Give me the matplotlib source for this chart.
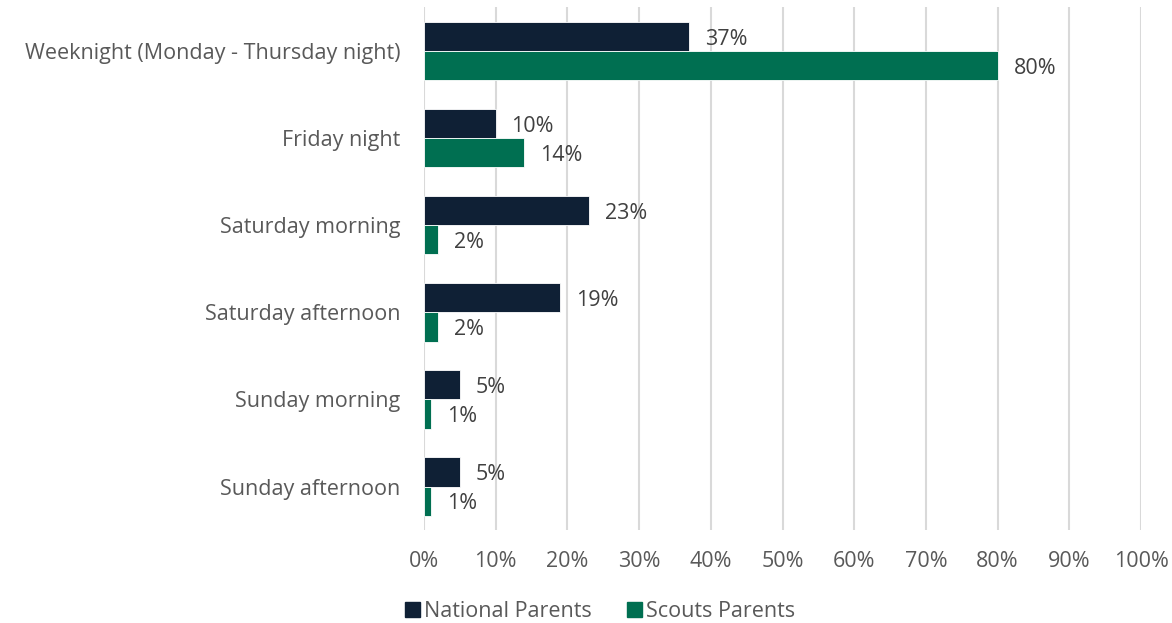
import numpy as np
import matplotlib.pyplot as plt

categories = ["Weeknight (Monday - Thursday night)", "Friday night", "Saturday morning",
              "Saturday afternoon", "Sunday morning", "Sunday afternoon"]
national = [37, 10, 23, 19, 5, 5]
scouts = [80, 14, 2, 2, 1, 1]
series_names = ["National Parents", "Scouts Parents"]
colors = ["#0f2035", "#006f51"]

plt.rcParams['font.family'] = ['Open Sans', 'DejaVu Sans']

fig = plt.figure(figsize=(11.72, 6.23), dpi=100)
ax = fig.add_axes([0.3618, 0.149, 0.6118, 0.839])

y = np.arange(len(categories))
h = 0.335
b1 = ax.barh(y - h / 2, national, height=h, color=colors[0], edgecolor="white",
             linewidth=0.6, label=series_names[0], zorder=3)
b2 = ax.barh(y + h / 2, scouts, height=h, color=colors[1], edgecolor="white",
             linewidth=0.6, label=series_names[1], zorder=3)

# value labels just right of each bar (y axis is inverted, so +offset moves down)
for bars in (b1, b2):
    for rect in bars:
        v = rect.get_width()
        ax.text(v + 2.2, rect.get_y() + rect.get_height() / 2 + 0.03, f"{v:.0f}%",
                va="center", ha="left", fontsize=15.5, color="#404040")

ax.set_xlim(0, 100)
ax.set_ylim(len(categories) - 0.5, -0.5)
ax.set_xticks(np.arange(0, 101, 10))
ax.set_xticklabels([f"{t}%" for t in range(0, 101, 10)])
ax.set_yticks(y)
ax.set_yticklabels(categories)
ax.tick_params(axis="both", length=0, labelsize=15.5, labelcolor="#595959")
ax.tick_params(axis="x", pad=15)
ax.tick_params(axis="y", pad=17)
ax.grid(axis="x", color="#d9d9d9", linewidth=1.5, zorder=0)
for s in ax.spines.values():
    s.set_visible(False)

handles = [plt.Rectangle((0, 0), 1, 1, color=c) for c in colors]
fig.legend(handles, series_names, loc="center", bbox_to_anchor=(0.512, 0.019),
           ncol=2, frameon=False, fontsize=15.5, labelcolor="#595959",
           handlelength=0.7, handleheight=0.7, handletextpad=0.2, columnspacing=1.6)

fig.savefig("out.png", dpi=100)
